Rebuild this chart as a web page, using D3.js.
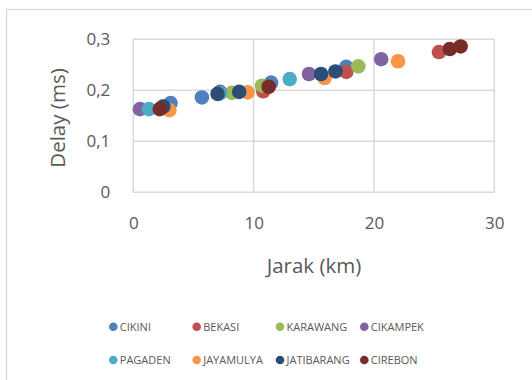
<!DOCTYPE html>
<html>
<head>
<meta charset="utf-8">
<script src="https://cdn.jsdelivr.net/npm/d3@7"></script>
<style>
  html, body { margin: 0; padding: 0; background: #fff; }
  svg { display: block; }
</style>
</head>
<body>
<svg id="chart" width="532" height="380"></svg>
<script>
// Delay vs distance per station
const seriesNames = ["CIKINI", "BEKASI", "KARAWANG", "CIKAMPEK", "PAGADEN", "JAYAMULYA", "JATIBARANG", "CIREBON"];
const seriesColors = ["#4F81BD", "#C0504D", "#9BBB59", "#8064A2", "#4BACC6", "#F79646", "#2C4D75", "#772C2A"];

const cikini     = [[3.1, 0.175], [5.7, 0.186], [11.45, 0.215], [17.7, 0.246]];
const bekasi     = [[10.8, 0.198], [17.7, 0.236], [25.4, 0.275]];
const karawang   = [[2.4, 0.168], [8.2, 0.195], [10.7, 0.209], [18.7, 0.247]];
const cikampek   = [[0.55, 0.163], [7.2, 0.197], [14.6, 0.232], [20.6, 0.261]];
const pagaden    = [[1.3, 0.163], [7.2, 0.194], [13.0, 0.222]];
const jayamulya  = [[3.0, 0.161], [9.5, 0.196], [15.9, 0.224], [22.0, 0.257]];
const jatibarang = [[2.5, 0.168], [7.0, 0.193], [8.8, 0.197], [15.6, 0.232], [16.8, 0.237]];
const cirebon    = [[2.2, 0.163], [11.25, 0.207], [26.3, 0.281], [27.2, 0.286]];

const seriesValues = [cikini, bekasi, karawang, cikampek, pagaden, jayamulya, jatibarang, cirebon];

const xTicks = [0, 10, 20, 30];
const yTicks = [0, 0.1, 0.2, 0.3];
const xTitle = "Jarak (km)";
const yTitle = "Delay (ms)";

const svg = d3.select("#chart");
const font = "'Open Sans', 'Noto Sans', sans-serif";
const gridColor = "#d9d9d9";
const textColor = "#595959";

// chart frame
svg.append("rect")
  .attr("x", 6.5).attr("y", 9.5)
  .attr("width", 540).attr("height", 400)
  .attr("fill", "#fff")
  .attr("stroke", gridColor).attr("stroke-width", 1.3);

const x = d3.scaleLinear().domain([0, 30]).range([133.3, 494.3]);
const y = d3.scaleLinear().domain([0, 0.3]).range([192.3, 39.3]);

const fmt = d => d === 0 ? "0" : d3.format(".1f")(d).replace(".", ",");

// gridlines
const grid = svg.append("g");
grid.selectAll("line.h").data(yTicks).join("line")
  .attr("x1", x(0)).attr("x2", x(30))
  .attr("y1", d => y(d)).attr("y2", d => y(d))
  .attr("stroke", gridColor).attr("stroke-width", 1.5);
grid.selectAll("line.v").data(xTicks).join("line")
  .attr("y1", y(0)).attr("y2", y(0.3))
  .attr("x1", d => x(d)).attr("x2", d => x(d))
  .attr("stroke", gridColor).attr("stroke-width", 1.5);

// axes (labels only)
const xAxis = svg.append("g")
  .attr("transform", `translate(0,${y(0)})`)
  .call(d3.axisBottom(x).tickValues(xTicks).tickSize(0).tickPadding(25).tickFormat(d => d));
const yAxis = svg.append("g")
  .attr("transform", `translate(${x(0)},0)`)
  .call(d3.axisLeft(y).tickValues(yTicks).tickSize(0).tickPadding(23).tickFormat(fmt));
[xAxis, yAxis].forEach(a => {
  a.select(".domain").remove();
  a.selectAll("text")
    .attr("fill", textColor)
    .style("font-family", font)
    .style("font-size", "17px");
});

// axis titles
svg.append("text")
  .attr("x", 314).attr("y", 273)
  .attr("text-anchor", "middle")
  .attr("fill", textColor)
  .style("font-family", font).style("font-size", "20.5px")
  .text(xTitle);
svg.append("text")
  .attr("transform", "translate(65,118) rotate(-90)")
  .attr("text-anchor", "middle")
  .attr("fill", textColor)
  .style("font-family", font).style("font-size", "20.5px")
  .text(yTitle);

// points
seriesValues.forEach((vals, i) => {
  svg.append("g").selectAll("circle").data(vals).join("circle")
    .attr("cx", d => x(d[0]))
    .attr("cy", d => y(d[1]))
    .attr("r", 7.3)
    .attr("fill", seriesColors[i]);
});

// legend
const legendX = [113.3, 196.7, 280, 364.3];
const legendY = [326.7, 360];
const legend = svg.append("g");
seriesNames.forEach((name, i) => {
  const lx = legendX[i % 4], ly = legendY[Math.floor(i / 4)];
  legend.append("circle")
    .attr("cx", lx).attr("cy", ly).attr("r", 4.3)
    .attr("fill", seriesColors[i]);
  legend.append("text")
    .attr("x", lx + 6.5).attr("y", ly)
    .attr("dy", "0.35em")
    .attr("fill", textColor)
    .style("font-family", font).style("font-size", "11px")
    .text(name);
});
</script>
</body>
</html>
